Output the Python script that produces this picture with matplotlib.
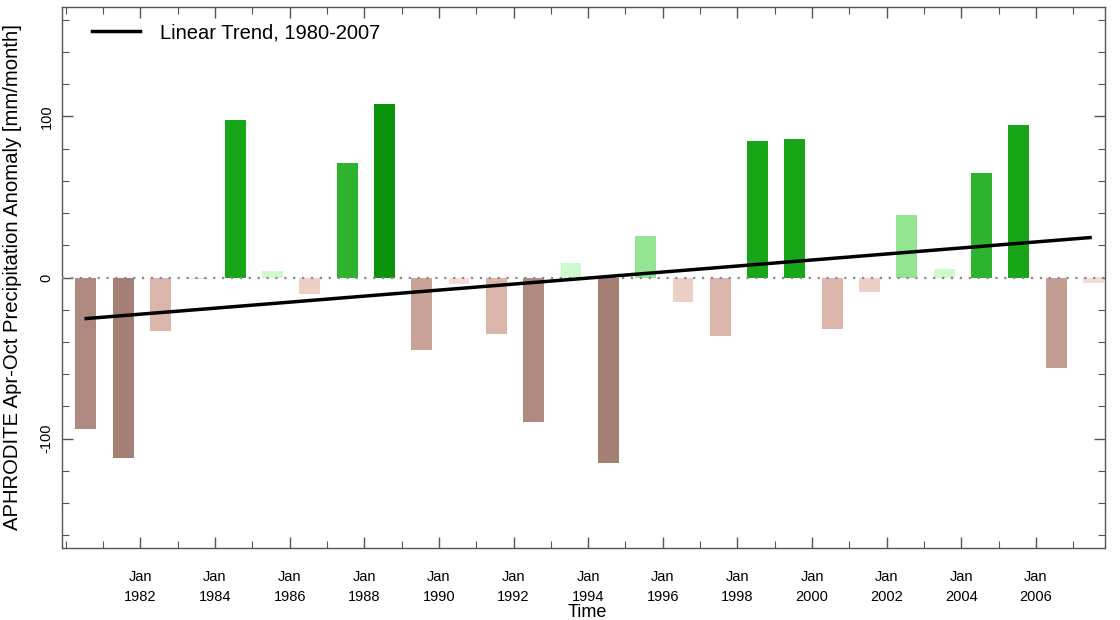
import matplotlib
matplotlib.use("Agg")
import matplotlib.pyplot as plt
from matplotlib.ticker import MultipleLocator, FixedLocator
import numpy as np

plt.rcParams['font.family'] = ['Liberation Sans', 'DejaVu Sans']

years = list(range(1980, 2008))
anomaly = [-94, -112, -33.5, -1, 98, 4, -10.5, 71, 107.5, -45,
           -4, -35, -90, 9, -115.5, 26, -15, -36.6, 85, 86,
           -32, -8.7, 39, 5.5, 64.6, 95, -56, -3.7]
trend_years = [1980.55, 2007.45]
trend_values = [-25.5, 24.8]
tick_years = list(range(1982, 2007, 2))
tick_labels = [f"Jan\n{y}" for y in tick_years]


def bar_color(v):
    a = abs(v)
    if v >= 0:
        if a >= 100: return '#0c930c'
        if a >= 80: return '#17a617'
        if a >= 50: return '#2db32d'
        if a >= 20: return '#93e593'
        return '#cdfacd'
    else:
        if a >= 100: return '#a67f74'
        if a >= 80: return '#b08a80'
        if a >= 50: return '#c59e93'
        if a >= 40: return '#c9a398'
        if a >= 20: return '#dbb5aa'
        if a >= 5: return '#ecd0c8'
        return '#f4ddd7'


fig = plt.figure(figsize=(11.2, 6.2), dpi=100)
ax = fig.add_axes([62/1120, 1-548/620, (1105-62)/1120, (548-7)/620])

x = np.array(years) + 0.54
ax.bar(x, anomaly, width=0.56, color=[bar_color(v) for v in anomaly],
       edgecolor='none', zorder=2)
ax.axhline(0, color='#888888', linestyle=(0, (1, 3)), linewidth=1.6, zorder=3)
ax.plot(trend_years, trend_values, color='black', linewidth=2.5,
        label='Linear Trend, 1980-2007', zorder=4)

ax.set_xlim(1979.9, 2007.85)
ax.set_ylim(-168, 168)

ax.xaxis.set_major_locator(FixedLocator(tick_years))
ax.set_xticklabels(tick_labels, fontsize=10.5, linespacing=1.5)
ax.xaxis.set_minor_locator(MultipleLocator(1))
ax.yaxis.set_major_locator(FixedLocator([-100, 0, 100]))
ax.yaxis.set_minor_locator(MultipleLocator(20))
ax.set_yticklabels(['-100', '0', '100'], rotation=90, va='center', fontsize=10.5)

ax.tick_params(which='both', direction='in', top=True, right=True,
               color='#555555')
ax.tick_params(which='major', length=8, width=1)
ax.tick_params(which='minor', length=5, width=0.8)
ax.tick_params(axis='x', which='major', pad=16)
ax.tick_params(axis='y', which='major', pad=6)
for s in ax.spines.values():
    s.set_color('#555555')
    s.set_linewidth(1)

ax.set_xlabel('Time', fontsize=13)
ax.xaxis.set_label_coords(0.504, -0.104)
ax.set_ylabel('APHRODITE Apr-Oct Precipitation Anomaly [mm/month]',
              fontsize=14.6)
ax.yaxis.set_label_coords(-0.0385, 0.5)

ax.legend(loc='upper left', frameon=False, fontsize=14.5, handlelength=2.4,
          handletextpad=1.0, borderaxespad=0, bbox_to_anchor=(0.021, 0.985))

fig.savefig('out.png', dpi=100)
